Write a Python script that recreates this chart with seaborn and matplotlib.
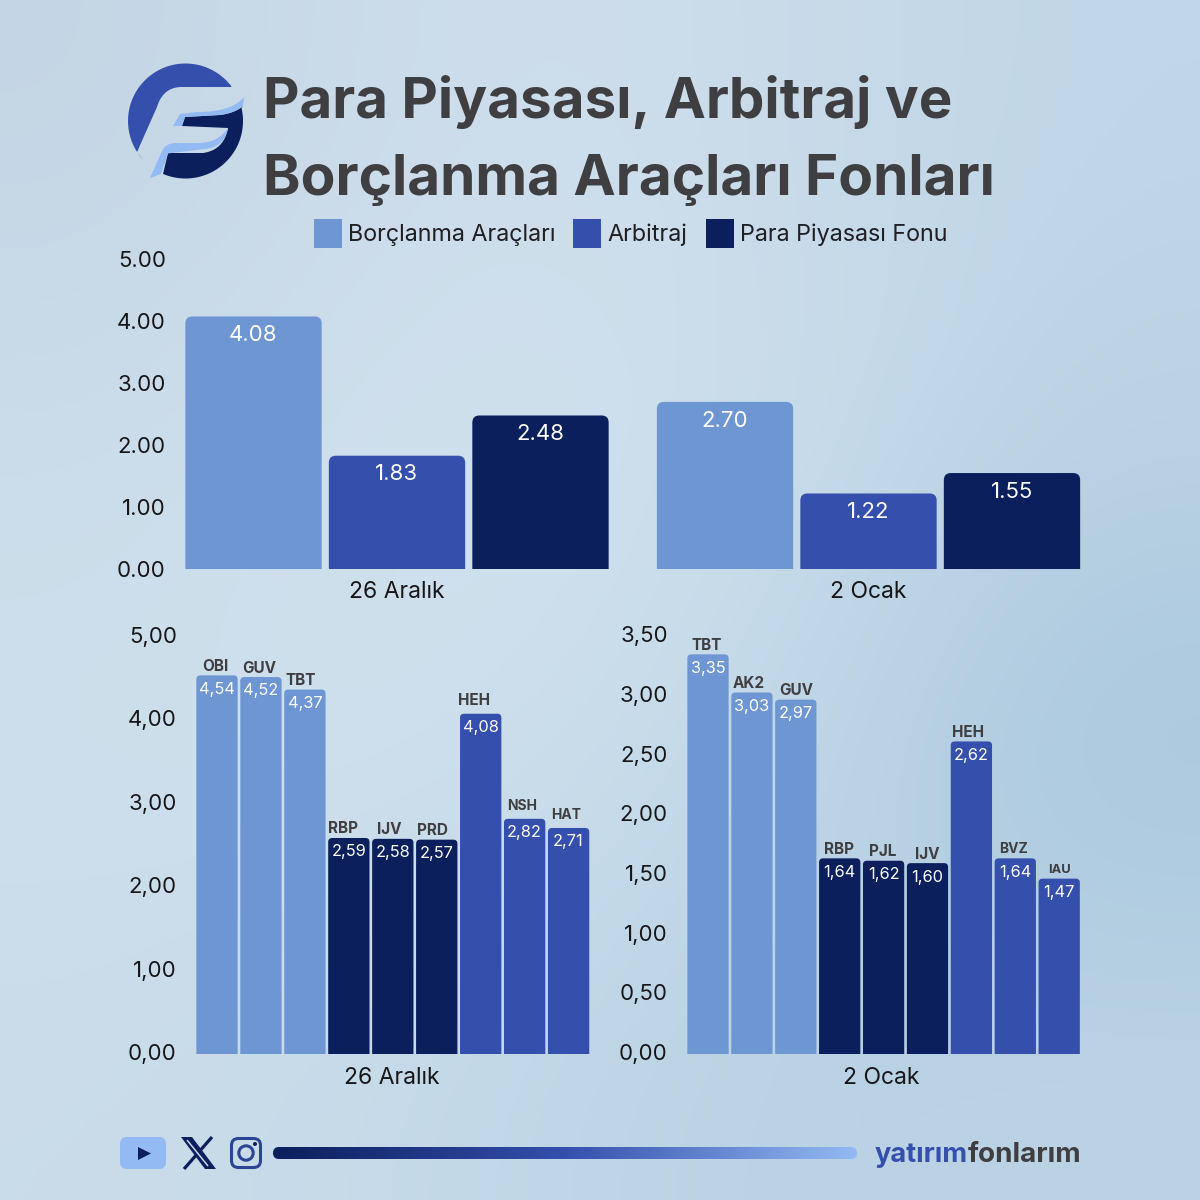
import numpy as np
import pandas as pd
import matplotlib
matplotlib.use("Agg")
import matplotlib.pyplot as plt
from matplotlib.patches import FancyBboxPatch, Polygon, Circle
from matplotlib.transforms import ScaledTranslation
import seaborn as sns

# ---------- data ----------
periods = ["26 Aralık", "2 Ocak"]
fund_types = ["Borçlanma Araçları", "Arbitraj", "Para Piyasası Fonu"]
top_debt = [4.08, 2.70]
top_arb = [1.83, 1.22]
top_money = [2.48, 1.55]

left_funds = ["OBI", "GUV", "TBT", "RBP", "IJV", "PRD", "HEH", "NSH", "HAT"]
left_values = [4.54, 4.52, 4.37, 2.59, 2.58, 2.57, 4.08, 2.82, 2.71]
right_funds = ["TBT", "AK2", "GUV", "RBP", "PJL", "IJV", "HEH", "BVZ", "IAU"]
right_values = [3.35, 3.03, 2.97, 1.64, 1.62, 1.60, 2.62, 1.64, 1.47]
group_types = ["Borçlanma Araçları"] * 3 + ["Para Piyasası Fonu"] * 3 + ["Arbitraj"] * 3

title_lines = ["Para Piyasası, Arbitraj ve", "Borçlanma Araçları Fonları"]
top_ticks = [0, 1, 2, 3, 4, 5]
left_ticks = [0, 1, 2, 3, 4, 5]
right_ticks = [0, .5, 1, 1.5, 2, 2.5, 3, 3.5]

# ---------- style ----------
LIGHT, MID, NAVY = "#6E96D2", "#354FAD", "#0A1F5C"
PALE = "#93BAF2"
DARK = "#3F3F42"
INK = "#17171A"
palette = dict(zip(fund_types, [LIGHT, MID, NAVY]))

sns.set_theme(style="white")
plt.rcParams["font.family"] = ["Inter", "DejaVu Sans"]

W = 1200
fig = plt.figure(figsize=(12, 12), dpi=100)

# full-figure pixel layer: background and decoration
bg = fig.add_axes([0, 0, 1, 1], zorder=0)
grid = np.array([
    [[196, 213, 229], [206, 222, 236], [203, 220, 234], [193, 214, 230]],
    [[203, 220, 234], [210, 226, 239], [205, 223, 236], [186, 210, 228]],
    [[206, 223, 236], [208, 225, 238], [196, 217, 232], [166, 198, 221]],
    [[202, 220, 234], [196, 217, 232], [184, 209, 227], [188, 212, 229]],
], dtype=float) / 255
bg.imshow(grid, extent=(0, W, W, 0), aspect="auto", interpolation="bicubic")
bg.set_xlim(0, W)
bg.set_ylim(W, 0)
bg.axis("off")


def chart_axes(left, right, top, bottom):
    ax = fig.add_axes([left / W, 1 - bottom / W, (right - left) / W, (bottom - top) / W], zorder=2)
    ax.patch.set_alpha(0)
    return ax


def round_bars(ax, r_px):
    """Swap the library's bars for rounded ones with the same geometry."""
    bb = ax.get_window_extent()
    sx = (ax.get_xlim()[1] - ax.get_xlim()[0]) / bb.width
    sy = (ax.get_ylim()[1] - ax.get_ylim()[0]) / bb.height
    for rect in list(ax.patches):
        if rect.get_height() <= 0:
            continue
        drop = 3 * r_px * sy
        p = FancyBboxPatch((rect.get_x(), -drop), rect.get_width(), rect.get_height() + drop,
                           boxstyle=f"round,pad=0,rounding_size={r_px * sx}",
                           mutation_aspect=sy / sx, fc=rect.get_facecolor(), ec="none", zorder=2)
        ax.add_patch(p)
        rect.set_visible(False)


def finish_axis(ax, yticks, ysep, ticks_x, labels_x, dy_px=0, pad_y=3):
    ax.set_xlabel(None)
    ax.set_ylabel(None)
    ax.set_yticks(yticks, [f"{t:.2f}".replace(".", ysep) for t in yticks])
    ax.set_xticks(ticks_x, labels_x)
    ax.tick_params(axis="y", length=0, labelsize=16, labelcolor=INK, pad=pad_y)
    ax.tick_params(axis="x", length=0, labelsize=16.5, labelcolor=INK, pad=9)
    sns.despine(ax=ax, left=True, bottom=True)
    off = ScaledTranslation(0, dy_px / 100, fig.dpi_scale_trans)
    for lb in ax.get_yticklabels():
        lb.set_transform(lb.get_transform() + off)


# ---------- top chart ----------
top_df = pd.DataFrame({
    "period": periods * 3,
    "type": np.repeat(fund_types, 2),
    "value": top_debt + top_arb + top_money,
})
ax_top = chart_axes(170, 1104, 250, 569)
sns.barplot(data=top_df, x="period", y="value", hue="type", order=periods, hue_order=fund_types,
            palette=palette, saturation=1, width=0.913, gap=0.05, ax=ax_top, errorbar=None)
ax_top.set_xlim((170 - 397) / 471.5, (1104 - 397) / 471.5)
ax_top.set_ylim(0, 319 / 61.9)
finish_axis(ax_top, top_ticks, ".", [0, 1], periods)
for c, vals in zip(ax_top.containers, [top_debt, top_arb, top_money]):
    ax_top.bar_label(c, labels=[f"{v:.2f}" for v in vals], padding=-20.7, color="white",
                     fontsize=16, zorder=5)
round_bars(ax_top, 7)
sns.move_legend(ax_top, "center", bbox_to_anchor=(630.5 / W, 1 - 233.5 / W), bbox_transform=fig.transFigure,
                ncol=3, frameon=False, title=None, fontsize=16.8, labelcolor="#1F1F24",
                handlelength=1.2, handleheight=1.6, handletextpad=0.27, columnspacing=0.77,
                borderpad=0, borderaxespad=0)
for h in ax_top.get_legend().legend_handles:
    h.set_edgecolor("none")

# small sideways shifts of the fund names, in pixels
left_nudge = {"OBI": -2, "GUV": -2, "TBT": -4, "RBP": -6, "IJV": -4, "PRD": -4, "HEH": -7, "NSH": -3, "HAT": -2}
right_nudge = {"TBT": -1, "AK2": -3, "GUV": 0, "RBP": -1, "PJL": -1, "IJV": 0, "HEH": -3, "BVZ": -2, "IAU": 0}


# ---------- bottom charts ----------
def fund_chart(bounds, funds, values, first_c, step, scale, yticks, period, nudge, label_tick):
    left, right, top, bottom = bounds
    df = pd.DataFrame({"fund": funds, "value": values, "type": group_types})
    ax = chart_axes(left, right, top, bottom)
    sns.barplot(data=df, x="fund", y="value", hue="type", order=funds, hue_order=fund_types,
                palette=palette, saturation=1, dodge=False, width=0.94, ax=ax,
                errorbar=None, legend=False)
    ax.set_xlim((left - first_c) / step, (right - first_c) / step)
    ax.set_ylim(0, (bottom - top) / scale)
    finish_axis(ax, yticks, ",", [label_tick], [period], dy_px=2)
    for cont in ax.containers:
        for rect in cont:
            if rect.get_height() <= 0:
                continue
            xc = rect.get_x() + rect.get_width() / 2
            i = int(round(xc))
            v = values[i]
            ax.annotate(f"{v:.2f}".replace(".", ","), (xc, v), xytext=(0, -10), textcoords="offset points",
                        ha="center", va="center", color="white", fontsize=11.8, zorder=5)
            small = funds[i] in ("NSH", "HAT", "BVZ")
            tiny = funds[i] == "IAU"
            gap = 9.5 if funds[i] in ("HEH", "NSH", "HAT") and bounds[0] < 300 else 6.5
            ax.annotate(funds[i], (xc, v), xytext=(nudge[funds[i]] * 0.72, gap), textcoords="offset points",
                        ha="center", va="center", color=DARK, fontweight="bold",
                        fontsize=9.3 if tiny else 10 if small else 11, zorder=5)
    round_bars(ax, 4)
    return ax


ax_l = fund_chart((181, 600, 625, 1054), left_funds, left_values, 217, 43.95, 83.4, left_ticks,
                  periods[0], left_nudge, 3.98)
ax_r = fund_chart((672, 1090, 625, 1054), right_funds, right_values, 708, 43.9, 119.3, right_ticks,
                  periods[1], right_nudge, 3.95)

# ---------- title ----------
bg.text(263, 118, title_lines[0], fontsize=40.65, fontweight="bold", color=DARK, ha="left", va="baseline")
bg.text(263, 195, title_lines[1], fontsize=40.85, fontweight="bold", color=DARK, ha="left", va="baseline")


# ---------- logo ----------
def arc(c, r, a0, a1, n=60):
    t = np.radians(np.linspace(a0, a1, n))
    return np.c_[c[0] + r * np.cos(t), c[1] - r * np.sin(t)]


def bez(p0, p1, p2, n=24):
    t = np.linspace(0, 1, n)[:, None]
    p0, p1, p2 = map(np.asarray, (p0, p1, p2))
    return (1 - t) ** 2 * p0 + 2 * t * (1 - t) * p1 + t ** 2 * p2


def shape(parts, color, z=3):
    bg.add_patch(Polygon(np.vstack(parts), closed=True, fc=color, ec="none", zorder=z))


C, R = (185.5, 121), 57.5
shape([arc(C, R, 37, 223), [[137, 152]], bez((157, 107), (163, 87), (182, 87)), [[231, 87]]], MID)
shape([arc(C, R, 13, -113), [[168, 153], [203, 153]], bez((203, 153), (224, 150), (228, 128)),
       [[182, 126], [185, 117], [220, 115]], bez((220, 115), (235, 113), (243, 106))], NAVY)
shape([bez((244, 97), (232, 112), (197, 112)), [[180, 114], [173, 126], [182, 126], [185, 117], [220, 115]],
       bez((220, 115), (235, 113), (243, 106))], PALE, 4)
shape([[[150, 178], [161, 174]], [[168, 153.5], [200, 149.5]], bez((200, 149.5), (224, 149), (228, 128)),
       bez((228, 128), (218, 143), (198, 143)), bez((176, 143), (166, 143), (162, 151))], PALE, 4)

# ---------- footer ----------
bg.add_patch(FancyBboxPatch((120, 1137), 46, 32, boxstyle="round,pad=0,rounding_size=7",
                            fc=PALE, ec="none", zorder=3))
shape([[[138, 1147], [138, 1160], [151, 1153.5]]], NAVY, 4)

shape([[[181, 1137], [192, 1137], [216, 1169], [205, 1169]]], NAVY)
bg.plot([187, 208], [1140, 1166], color="#C4D9E8", lw=1.1, zorder=4, solid_capstyle="butt")
bg.plot([212, 184], [1137, 1169], color=NAVY, lw=2.3, zorder=3, solid_capstyle="butt")

IG = "#2B4595"
bg.add_patch(FancyBboxPatch((231.5, 1138.5), 29, 29, boxstyle="round,pad=0,rounding_size=7",
                            fc="none", ec=IG, lw=2.2, zorder=3))
bg.add_patch(Circle((246, 1153), 7.2, fc="none", ec=IG, lw=2.2, zorder=3))
bg.add_patch(Circle((255, 1144), 2, fc=NAVY, ec="none", zorder=3))

strip = np.linspace(0, 1, 256)[None, :]
cmap = matplotlib.colors.LinearSegmentedColormap.from_list("strip", [NAVY, MID, PALE])
im = bg.imshow(strip, extent=(273, 857, 1159, 1147), aspect="auto", cmap=cmap, zorder=3)
clip = FancyBboxPatch((273, 1147), 584, 12, boxstyle="round,pad=0,rounding_size=6",
                      fc="none", ec="none", transform=bg.transData)
bg.add_patch(clip)
im.set_clip_path(clip)
bg.set_xlim(0, W)
bg.set_ylim(W, 0)

bg.text(968, 1162, "yatırım", fontsize=19.6, fontweight="bold", color=MID, ha="right", va="baseline")
bg.text(968, 1162, "fonlarım", fontsize=20, fontweight="bold", color=DARK, ha="left", va="baseline")

fig.savefig("out.png", dpi=100)
